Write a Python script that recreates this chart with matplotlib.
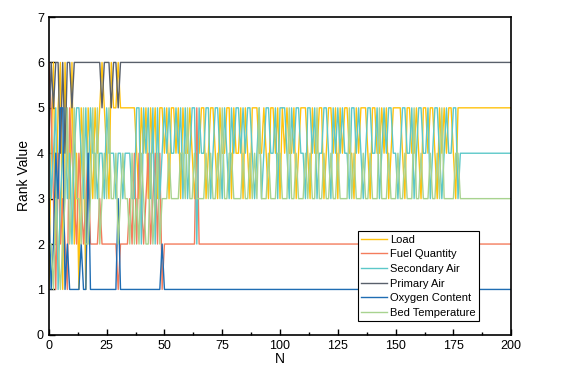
import numpy as np
import matplotlib
matplotlib.use("Agg")
import matplotlib.pyplot as plt
from matplotlib.ticker import MultipleLocator

plt.rcParams["font.family"] = ["Liberation Sans", "DejaVu Sans"]

# Rank of each variable at every step N = 0..200 (one digit per step)
load = (
    "1462561643" "6241541543" "5456543655" "6555"
    "5555435453" "5453554535"
    "5453544543" "4" "4553455435" "4455354453" "5435554454" "3554535454"
    "4534555435" "4455345545" "3545544354" "5554355445" "4534555543"
    "5544543554" "5543545455" "435"
    "5555555555" "5555555555" "555"
)
fuel_quantity = (
    "6531423215" "4324323422" "2232222222" "1222"
    "2324243234" "2342412222"
    "2222222222" "5"
    "2222222222" "2222222222" "2222222222" "2222222222" "2222222222"
    "2222222222" "2222222222" "2222222222" "2222222222" "2222222222"
    "2222222222" "2222222222" "2222222222" "222222"
)
secondary_air = (
    "5345134534" "2455435354" "4344354443" "4434"
    "4433552545" "3525345454"
    "4545353455" "2" "5445534554" "3543545545" "4554345345" "5445355543"
    "5455443554" "5344554354" "5454435545" "4345544534" "5455443455"
    "4453455445" "3455434544" "553"
    "4444444444" "4444444444" "444"
)
primary_air = (
    "4656646466" "5666666666" "6665666566" "5666"
    "6666666666" "6666666666"
    "6666666666" "6666666666" "6666666666" "6666666666" "6666666666"
    "6666666666" "6666666666" "6666666666" "6666666666" "6666666666"
    "6666666666" "6666666666" "6666666666" "6666666666" "6666666"
)
oxygen_content = (
    "3124355121" "1111211411" "1111111111" "3111"
    "1111111111" "1111121111"
    "1111111111" "1111111111" "1111111111" "1111111111" "1111111111"
    "1111111111" "1111111111" "1111111111" "1111111111" "1111111111"
    "1111111111" "1111111111" "1111111111" "1111111111" "1111111"
)
bed_temperature = (
    "2213212352" "3533252235" "3523435334" "2343"
    "3242324322" "4234233343"
    "3334435334" "3" "3334343343" "5334433334" "3343435333" "4333443335"
    "3343334343" "3533433433" "4333353433" "3433433353" "3343334334"
    "3335334333" "4334353333" "344"
    "3333333333" "3333333333" "333"
)

names = ["Load", "Fuel Quantity", "Secondary Air", "Primary Air",
         "Oxygen Content", "Bed Temperature"]
series = [load, fuel_quantity, secondary_air, primary_air, oxygen_content, bed_temperature]
colors = ["#FFC20E", "#F47C5C", "#5CC8C9", "#59606B", "#1F6DB3", "#A8D38F"]

fig = plt.figure(figsize=(5.68, 3.70), dpi=100)
ax = fig.add_axes([0.086, 0.095, 0.814, 0.859])

for name, s, c in zip(names, series, colors):
    y = [int(ch) for ch in s]
    assert len(y) == 201, (name, len(y))
    ax.plot(np.arange(len(y)), y, color=c, lw=1.0, label=name)

ax.set_xlim(0, 200)
ax.set_ylim(0, 7)
ax.xaxis.set_major_locator(MultipleLocator(25))
ax.xaxis.set_minor_locator(MultipleLocator(12.5))
ax.yaxis.set_major_locator(MultipleLocator(1))
ax.tick_params(direction="in", which="both", labelsize=9, top=False, right=False)
ax.tick_params(which="major", length=4, width=1)
ax.tick_params(which="minor", length=2.5, width=1)
for sp in ax.spines.values():
    sp.set_linewidth(1.2)
    sp.set_color("black")

ax.set_xlabel("N", fontsize=10, labelpad=0)
ax.set_ylabel("Rank Value", fontsize=10, labelpad=4)

leg = ax.legend(loc="upper left", bbox_to_anchor=(0.668, 0.326), fontsize=8,
                frameon=True, fancybox=False, edgecolor="black", framealpha=1,
                labelspacing=0.42, borderpad=0.3, handlelength=2.3,
                handletextpad=0.3, borderaxespad=0)
leg.get_frame().set_linewidth(0.8)

fig.savefig("out.png", dpi=100)
